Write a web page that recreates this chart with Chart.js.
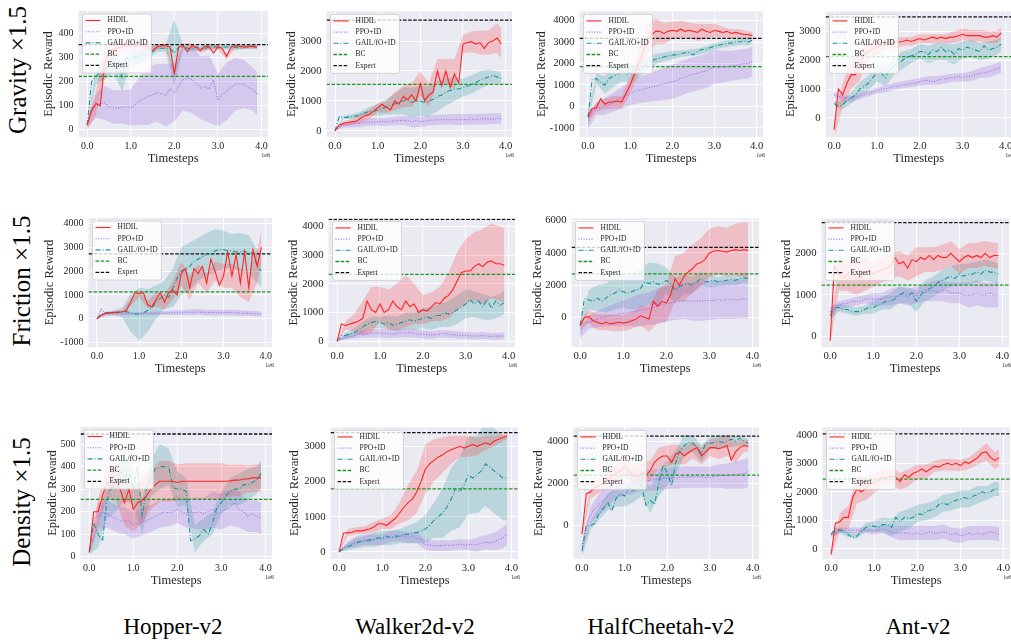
<!DOCTYPE html>
<html>
<head>
<meta charset="utf-8">
<script src="https://cdn.jsdelivr.net/npm/chart.js@4.4.1/dist/chart.umd.min.js"></script>
<style>
html, body { margin: 0; padding: 0; background: #fff; overflow: hidden; }
body { width: 1011px; height: 643px; position: relative; font-family: "Liberation Serif", "DejaVu Serif", serif; color: #000; }
canvas { position: absolute; }
.rowlab { position: absolute; font-size: 25px; white-space: nowrap; transform: translate(-50%, -50%) rotate(-90deg); }
.collab { position: absolute; font-size: 23px; white-space: nowrap; transform: translate(-50%, -50%); }
</style>
</head>
<body>
<script>
// x positions (1e6 timesteps)
const steps = [0.0,0.1,0.2,0.3,0.4,0.5,0.6,0.7,0.8,0.9,1.0,1.1,1.2,1.3,1.4,1.5,1.6,1.7,1.8,1.9,
               2.0,2.1,2.2,2.3,2.4,2.5,2.6,2.7,2.8,2.9,3.0,3.1,3.2,3.3,3.4,3.5,3.6,3.7,3.8,3.9];
const bandSteps = [0.0,0.2,0.4,0.6,0.8,1.0,1.2,1.4,1.6,1.8,2.0,2.2,2.4,2.6,2.8,3.0,3.2,3.4,3.6,3.8,3.9];
const xTicks = [0, 1, 2, 3, 4];

const envs = ['Hopper-v2', 'Walker2d-v2', 'HalfCheetah-v2', 'Ant-v2'];
const shifts = ['Gravity \u00d71.5', 'Friction \u00d71.5', 'Density \u00d71.5'];
const methods = ['HIDIL', 'PPO+ID', 'GAIL/fO+ID', 'BC', 'Expert'];

// y tick labels per panel
const hopperTicks = [0, 100, 200, 300, 400, 500];
const kTicks = [-1000, 0, 1000, 2000, 3000, 4000];
const k2Ticks = [-2000, 0, 2000, 4000, 6000];

// horizontal reference levels, one per env
const grav_bc = [223, 1555, 1858, 2124];
const grav_expert = [355, 3700, 3176, 3503];
const fric_bc = [1130, 2333, 2704, 1235];
const fric_expert = [2720, 4247, 4343, 2740];
const dens_bc = [255, 1790, 2393, 2443];
const dens_expert = [545, 3392, 4243, 4034];

// ---- Gravity x1.5 ----
const grav_hopper_hidil = [20,80,110,100,280,320,335,340,345,350, 350,350,350,348,345,330,345,350,350,345, 235,345,350,325,350,345,330,350,345,320, 345,340,305,345,350,348,345,347,348,345];
const grav_hopper_hidil_sd = [20,50,60,30,20,15,15,15,10,10,10,10,10,10,10,10,10,8,8,8,8];
const grav_hopper_ppo = [20,90,100,110,112,95,95,90,95,95, 93,105,120,130,140,144,155,150,145,170, 157,180,210,214,210,195,175,180,170,208, 125,150,160,176,190,191,190,175,170,150];
const grav_hopper_ppo_sd = [10,50,70,70,70,75,100,120,120,130,120,130,140,130,140,110,120,110,100,90,90];
const grav_hopper_gail = [20,200,220,240,250,260,280,285,220,300, 300,305,300,310,320,325,340,340,340,340, 320,345,345,340,335,345,340,340,345,345, 345,343,345,345,343,340,345,345,345,345];
const grav_hopper_gail_sd = [10,30,40,40,60,30,30,25,15,15,140,10,10,10,10,10,10,10,8,8,8];

const grav_walker_hidil = [0,200,250,280,300,320,420,500,550,650, 770,880,800,700,1000,900,1150,1050,1200,1000, 1580,1000,1200,1300,2000,1500,2000,1450,1900,1600, 2900,2950,2980,2900,2950,2750,2950,3000,3100,2900];
const grav_walker_hidil_sd = [0,80,100,150,150,150,200,300,350,400,400,400,400,400,500,300,350,400,400,500,500];
const grav_walker_ppo = [0,150,180,200,220,250,250,280,300,280, 300,320,300,320,330,350,350,340,300,350, 300,330,350,360,370,380,380,370,380,370, 380,380,390,380,390,400,400,380,420,400];
const grav_walker_ppo_sd = [0,80,100,120,130,130,130,140,150,180,170,170,170,170,180,180,180,180,180,180,180];
const grav_walker_gail = [0,480,450,450,480,500,550,600,650,650, 700,750,800,850,900,950,1000,1050,950,1000, 1000,950,1000,1050,1150,1200,1300,1350,1400,1400, 1450,1500,1550,1600,1700,1750,1800,1850,1800,1750];
const grav_walker_gail_sd = [0,50,80,100,150,200,250,350,450,500,500,500,500,450,400,300,300,300,250,200,200];

const grav_cheetah_hidil = [-500,-100,-50,350,100,200,200,250,200,600, 1000,1500,2000,2500,3100,3300,3500,3500,3400,3500, 3550,3500,3600,3500,3550,3500,3450,3600,3500,3450, 3550,3500,3450,3500,3400,3450,3400,3350,3350,3300];
const grav_cheetah_hidil_sd = [200,200,250,300,300,400,500,700,600,500,400,400,350,400,350,300,250,200,200,150,150];
const grav_cheetah_ppo = [-800,-200,-100,-50,0,50,200,300,400,500, 600,700,750,800,850,900,950,1000,1050,1100, 1150,1200,1300,1350,1450,1500,1550,1600,1650,1750, 1850,1800,1850,1850,1900,1900,1950,2000,2000,2100];
const grav_cheetah_ppo_sd = [300,300,400,450,500,550,600,650,700,750,800,800,800,800,800,800,750,700,700,700,700];
const grav_cheetah_gail = [-500,1250,1300,1100,1000,1300,1400,1500,1600,1500, 1550,1700,1700,1800,2000,2100,2200,2250,2300,2350, 2400,2400,2450,2500,2500,2400,2550,2650,2650,2750, 2800,2850,2900,2950,2950,3000,3000,3050,3000,3100];
const grav_cheetah_gail_sd = [300,250,400,500,450,400,400,300,250,200,200,150,150,150,150,150,150,150,150,150,150];

const grav_ant_hidil = [-400,1000,800,1200,1500,1500,1800,2200,2300,2400, 2450,2500,2550,2600,2600,2630,2650,2700,2650,2700, 2750,2700,2750,2800,2750,2800,2750,2800,2800,2850, 2900,2850,2850,2850,2850,2800,2800,2850,2800,2950];
const grav_ant_hidil_sd = [300,400,500,500,300,250,200,200,150,150,150,150,150,150,200,200,200,200,200,200,200];
const grav_ant_ppo = [800,750,700,700,650,700,750,800,850,900, 950,1000,1000,1050,1100,1100,1150,1150,1200,1200, 1250,1300,1300,1250,1300,1350,1350,1400,1400,1450, 1400,1450,1450,1500,1550,1550,1600,1650,1700,1750];
const grav_ant_ppo_sd = [100,100,100,100,100,100,120,120,120,130,130,150,150,150,150,150,170,170,200,200,200];
const grav_ant_gail = [500,400,450,600,700,800,1000,1100,1200,1400, 1550,1550,1400,1700,1800,1900,2000,2100,2150,2200, 2300,2300,2200,2350,2300,2450,2300,2350,2200,2400, 2350,2450,2400,2350,2300,2500,2350,2400,2450,2550];
const grav_ant_gail_sd = [100,150,200,250,250,300,300,300,300,250,250,300,300,300,350,300,300,300,300,250,250];

// ---- Friction x1.5 ----
const fric_hopper_hidil = [0,150,220,250,270,280,300,350,700,1100, 1050,1100,600,500,800,1100,700,1100,1200,1000, 1900,2100,1300,2100,1900,2200,1500,2500,2000,1400, 1800,2800,1800,2700,1500,2800,1300,2900,2200,3000];
const fric_hopper_hidil_sd = [20,30,50,50,150,150,150,300,300,400,500,500,400,400,400,500,500,600,600,700,700];
const fric_hopper_ppo = [0,400,200,200,200,200,210,200,210,220, 220,230,220,230,240,230,240,250,260,250, 260,280,270,280,290,270,260,270,260,250, 260,270,260,250,240,230,230,220,210,200];
const fric_hopper_ppo_sd = [10,100,60,60,60,70,70,80,80,100,100,120,120,120,120,120,120,120,110,110,110];
const fric_hopper_gail = [0,200,250,250,260,270,280,300,250,200, 200,250,350,450,700,850,1000,900,1300,1700, 2000,2100,2200,2400,2500,2600,2700,2700,2850,2900, 2900,2850,2850,2800,2800,2850,2700,2800,2200,2000];
const fric_hopper_gail_sd = [10,50,100,200,800,1100,900,700,600,800,1000,1000,900,900,900,800,700,800,800,700,700];

const fric_walker_hidil = [0,600,550,600,650,700,800,1400,1100,1000, 1300,1000,1100,1400,1200,1100,1400,1200,1300,1000, 1100,1050,1200,1350,1300,1500,1600,1800,2100,2400, 2450,2450,2600,2700,2600,2750,2800,2700,2700,2650];
const fric_walker_hidil_sd = [0,150,300,600,800,600,700,800,900,700,500,500,600,800,1000,1100,1200,1300,1300,1300,1300];
const fric_walker_ppo = [0,100,150,150,200,250,250,250,280,300, 280,270,260,250,280,300,290,300,280,250, 240,230,220,230,250,280,250,230,220,200, 200,190,180,190,200,180,170,180,180,190];
const fric_walker_ppo_sd = [0,100,100,120,150,150,150,150,150,150,140,130,130,130,120,120,120,120,120,120,120];
const fric_walker_gail = [0,200,200,250,300,400,500,600,650,700, 650,600,650,550,600,650,700,750,700,750, 800,850,800,900,900,1000,950,1000,1100,1200, 1300,1450,1300,1400,1200,1450,1150,1400,1250,1350];
const fric_walker_gail_sd = [0,100,150,200,200,200,250,250,300,300,350,400,400,450,500,500,450,450,400,400,400];

const fric_cheetah_hidil = [-500,0,50,-200,-300,-400,-300,-400,-350,-300, -350,-300,-200,-100,100,0,-100,1000,700,1000, 900,1400,2400,2000,2500,2800,3000,3300,3400,3600, 4000,4100,4150,4100,4050,4150,4200,4150,4200,4150];
const fric_cheetah_hidil_sd = [300,400,500,500,500,500,500,600,800,1000,1200,1400,1500,1500,1500,1500,1500,1500,1600,1700,1700];
const fric_cheetah_ppo = [-1000,-300,-300,-200,-100,0,50,100,150,200, 250,300,350,400,450,500,550,600,700,800, 850,900,950,1000,1000,1050,1000,1050,1000,1050, 1050,1050,1100,1050,1100,1100,1100,1100,1150,1100];
const fric_cheetah_ppo_sd = [300,400,500,600,700,800,900,1000,1000,1100,1100,1100,1100,1200,1200,1200,1200,1200,1200,1200,1200];
const fric_cheetah_gail = [-500,1150,1100,1000,1200,1000,1200,1400,1500,1700, 1600,1500,1600,1700,1800,2200,2100,2200,2050,2100, 2300,2100,1700,1900,2050,2100,2000,2200,2400,2200, 2250,2300,2200,2250,2300,2350,2300,2400,2450,2400];
const fric_cheetah_gail_sd = [300,600,800,900,1000,1000,1100,1200,1300,1300,800,800,600,500,400,400,300,300,300,300,300];

const fric_ant_hidil = [-100,1700,1500,1400,1500,1600,1400,1400,1500,1600, 1500,1550,1600,1650,1700,1900,1750,1800,1650,1850, 1800,1900,1850,1950,1850,1950,1900,1900,2000,1900, 1800,1900,1950,1900,1950,1900,2000,1900,1950,1950];
const fric_ant_hidil_sd = [100,400,400,400,400,300,300,300,300,300,350,300,300,300,300,300,300,300,300,300,300];
const fric_ant_ppo = [600,750,750,800,800,850,850,850,900,900, 900,900,900,950,950,950,1000,1000,950,1050, 1000,1100,1050,1100,1100,1050,1100,1100,1050,1050, 1050,1000,1000,1000,1050,1000,1000,1050,1000,1000];
const fric_ant_ppo_sd = [100,100,100,100,100,150,150,200,200,200,200,200,250,250,250,250,300,300,300,300,300];
const fric_ant_gail = [500,700,700,650,650,600,600,600,650,700, 700,750,800,850,850,900,1000,1050,1000,1050, 850,1000,1100,1150,1200,1300,1350,1400,1450,1400, 1500,1450,1500,1500,1550,1500,1600,1550,1550,1500];
const fric_ant_gail_sd = [100,100,100,100,100,150,150,200,200,200,250,250,250,250,250,250,250,250,250,250,250];

// ---- Density x1.5 ----
const dens_hopper_hidil = [20,200,200,270,330,300,330,300,240,300, 210,240,250,270,300,320,335,335,335,335, 330,335,335,335,335,335,335,335,335,335, 335,335,337,340,340,345,345,350,350,350];
const dens_hopper_hidil_sd = [10,60,70,80,100,100,100,90,90,90,80,80,80,80,80,80,70,70,60,60,60];
const dens_hopper_ppo = [20,170,180,200,190,180,170,160,160,160, 140,150,155,160,170,180,190,200,195,200, 210,200,190,200,195,200,190,200,210,190, 200,210,220,240,210,200,180,190,180,170];
const dens_hopper_ppo_sd = [10,60,60,60,60,60,60,60,60,60,60,60,70,70,80,80,80,80,70,70,70];
const dens_hopper_gail = [20,150,100,70,250,320,300,380,350,380, 310,400,180,300,350,390,400,400,400,307, 300,300,290,71,80,93,121,100,150,220, 240,270,290,300,300,320,320,330,340,370];
const dens_hopper_gail_sd = [10,60,80,100,100,80,80,80,100,80,80,60,60,50,50,50,60,70,70,60,60];

const dens_walker_hidil = [0,530,550,560,600,600,620,650,700,800, 800,750,850,950,1100,1270,1400,1500,1700,2000, 2350,2500,2600,2700,2750,2850,2900,2950,3000,2950, 3000,3050,3000,3050,3100,3050,3150,3200,3250,3300];
const dens_walker_hidil_sd = [0,100,100,100,150,150,200,300,500,600,700,600,500,400,300,300,250,200,150,100,100];
const dens_walker_ppo = [0,150,200,250,300,300,350,300,350,400, 350,400,450,400,450,450,400,450,400,350, 200,200,180,180,180,200,180,200,220,200, 200,220,200,250,280,250,300,350,400,500];
const dens_walker_ppo_sd = [0,100,150,150,150,150,150,150,150,150,150,150,150,150,150,150,200,200,250,300,300];
const dens_walker_gail = [0,100,150,200,250,300,300,350,350,400, 400,450,400,450,450,500,500,550,550,600, 650,750,900,1000,1100,1270,1500,1800,1700,1900, 2180,2100,2200,2300,2500,2400,2300,2200,2100,2090];
const dens_walker_gail_sd = [0,100,150,150,200,200,200,200,250,300,400,500,700,900,1000,1100,1100,1200,1200,1200,1200];

const dens_cheetah_hidil = [-400,1500,1600,1800,1900,2000,2200,2300,2500,2600, 2800,2600,2400,2300,2500,2400,2600,3000,3200,3300, 3300,3000,3400,3500,3300,3480,3600,3700,3300,3500, 3700,3700,3650,3700,3800,3100,3500,3700,3800,3750];
const dens_cheetah_hidil_sd = [200,300,350,400,400,400,450,500,500,500,500,450,400,400,400,400,500,500,500,300,300];
const dens_cheetah_ppo = [-1000,0,500,800,1000,1200,1400,1600,1800,1900, 2000,2000,2050,2100,2150,2100,2150,2200,2200,2250, 2250,2250,2250,2300,2300,2300,2300,2350,2300,2300, 2290,2350,2350,2400,2350,2400,2400,2450,2450,2560];
const dens_cheetah_ppo_sd = [300,400,500,500,500,550,550,500,500,500,500,500,500,500,500,500,550,600,650,700,700];
const dens_cheetah_gail = [-1200,0,0,100,580,800,1115,700,1300,1500, 1400,1800,1600,2000,1900,960,1200,1000,2000,2870, 2500,1900,3000,3600,3800,3940,3900,3700,3400,3900, 3900,3950,4000,3950,4000,4100,4000,4150,4000,3900];
const dens_cheetah_gail_sd = [300,200,300,400,400,500,500,500,600,600,600,600,500,400,400,300,300,300,250,200,200];

const dens_ant_hidil = [-200,900,950,1100,1100,1800,2100,2000,2100,2300, 2300,2400,2500,2500,2550,2500,2360,2600,2500,2650, 2700,2800,2700,2800,2900,2865,2950,3000,2950,3000, 2920,3050,3000,3100,3200,3370,3400,3200,3100,3200];
const dens_ant_hidil_sd = [100,300,400,500,400,350,300,300,300,300,250,250,200,200,200,200,200,250,300,300,300];
const dens_ant_ppo = [500,600,650,650,650,650,650,650,650,650, 600,650,700,650,600,550,550,550,550,500, 550,500,550,600,550,550,600,550,500,550, 450,500,550,500,550,500,550,600,550,500];
const dens_ant_ppo_sd = [100,100,100,100,100,100,150,200,250,250,250,250,250,250,250,250,250,250,250,250,250];
const dens_ant_gail = [500,700,650,600,500,393,450,600,750,800, 786,750,850,850,750,1100,950,1100,1050,1100, 1236,1200,1300,1350,1400,1550,1600,1550,1650,1700, 1750,1800,1750,1850,1900,2000,1950,2000,2100,2100];
const dens_ant_gail_sd = [100,100,100,100,150,200,250,300,350,350,300,300,300,300,300,300,300,300,250,250,250];

// ---------------------------------------------------------------
const SERIF = '"Liberation Serif", "DejaVu Serif", serif';
const INK = '#262626';
const X_MIN = -0.2, X_MAX = 4.15;
const style = {
  'HIDIL':      { line: 'rgb(255,35,35)',   band: 'rgba(255,40,40,0.22)',   dash: [],           width: 1.1 },
  'PPO+ID':     { line: 'rgb(150,115,225)', band: 'rgba(150,110,225,0.26)', dash: [1, 1.6],     width: 1.1 },
  'GAIL/fO+ID': { line: 'rgb(25,150,150)',  band: 'rgba(20,140,140,0.22)',  dash: [5, 2, 1, 2], width: 1.1 },
  'BC':         { line: 'rgb(30,150,30)',   dash: [3.5, 1.6], width: 1.3 },
  'Expert':     { line: '#111',             dash: [3.5, 1.6], width: 1.3 }
};

// plot-area boxes on the page, y limits, y-title gap
const panels = [
  { row: 0, col: 0, l: 78,  t: 0,   r: 267,  b: 137, ymin: -30,   ymax: 495,  yt: hopperTicks, gap: 30, tick: 10,
    s: [grav_hopper_hidil, grav_hopper_hidil_sd, grav_hopper_ppo, grav_hopper_ppo_sd, grav_hopper_gail, grav_hopper_gail_sd], bc: grav_bc[0], ex: grav_expert[0] },
  { row: 0, col: 1, l: 326, t: 0,   r: 511,  b: 137, ymin: -205,  ymax: 3990, yt: kTicks, gap: 35, tick: 10.7,
    s: [grav_walker_hidil, grav_walker_hidil_sd, grav_walker_ppo, grav_walker_ppo_sd, grav_walker_gail, grav_walker_gail_sd], bc: grav_bc[1], ex: grav_expert[1] },
  { row: 0, col: 2, l: 579, t: 0,   r: 762,  b: 137, ymin: -1430, ymax: 4430, yt: kTicks, gap: 38, tick: 10.7,
    s: [grav_cheetah_hidil, grav_cheetah_hidil_sd, grav_cheetah_ppo, grav_cheetah_ppo_sd, grav_cheetah_gail, grav_cheetah_gail_sd], bc: grav_bc[2], ex: grav_expert[2] },
  { row: 0, col: 3, l: 825, t: 0,   r: 1011, b: 137, ymin: -660,  ymax: 3690, yt: kTicks, gap: 35, tick: 10.7,
    s: [grav_ant_hidil, grav_ant_hidil_sd, grav_ant_ppo, grav_ant_ppo_sd, grav_ant_gail, grav_ant_gail_sd], bc: grav_bc[3], ex: grav_expert[3] },

  { row: 1, col: 0, l: 88,  t: 213, r: 271,  b: 347, ymin: -1180, ymax: 4225, yt: kTicks, gap: 39, tick: 10,
    s: [fric_hopper_hidil, fric_hopper_hidil_sd, fric_hopper_ppo, fric_hopper_ppo_sd, fric_hopper_gail, fric_hopper_gail_sd], bc: fric_bc[0], ex: fric_expert[0] },
  { row: 1, col: 1, l: 328, t: 213, r: 514,  b: 347, ymin: -200,  ymax: 4280, yt: kTicks, gap: 35, tick: 10.7,
    s: [fric_walker_hidil, fric_walker_hidil_sd, fric_walker_ppo, fric_walker_ppo_sd, fric_walker_gail, fric_walker_gail_sd], bc: fric_bc[1], ex: fric_expert[1] },
  { row: 1, col: 2, l: 571, t: 213, r: 758,  b: 347, ymin: -1830, ymax: 6135, yt: k2Ticks, gap: 34, tick: 10.7,
    s: [fric_cheetah_hidil, fric_cheetah_hidil_sd, fric_cheetah_ppo, fric_cheetah_ppo_sd, fric_cheetah_gail, fric_cheetah_gail_sd], bc: fric_bc[2], ex: fric_expert[2] },
  { row: 1, col: 3, l: 821, t: 213, r: 1008, b: 347, ymin: -250,  ymax: 2840, yt: kTicks, gap: 35, tick: 10.7,
    s: [fric_ant_hidil, fric_ant_hidil_sd, fric_ant_ppo, fric_ant_ppo_sd, fric_ant_gail, fric_ant_gail_sd], bc: fric_bc[3], ex: fric_expert[3] },

  { row: 2, col: 0, l: 80,  t: 422, r: 271,  b: 559, ymin: -10,   ymax: 576,  yt: hopperTicks, gap: 28, tick: 10,
    s: [dens_hopper_hidil, dens_hopper_hidil_sd, dens_hopper_ppo, dens_hopper_ppo_sd, dens_hopper_gail, dens_hopper_gail_sd], bc: dens_bc[0], ex: dens_expert[0] },
  { row: 2, col: 1, l: 330, t: 422, r: 517,  b: 559, ymin: -200,  ymax: 3537, yt: kTicks, gap: 36, tick: 10.7,
    s: [dens_walker_hidil, dens_walker_hidil_sd, dens_walker_ppo, dens_walker_ppo_sd, dens_walker_gail, dens_walker_gail_sd], bc: dens_bc[1], ex: dens_expert[1] },
  { row: 2, col: 2, l: 573, t: 422, r: 758,  b: 559, ymin: -1585, ymax: 4657, yt: k2Ticks, gap: 35, tick: 10.7,
    s: [dens_cheetah_hidil, dens_cheetah_hidil_sd, dens_cheetah_ppo, dens_cheetah_ppo_sd, dens_cheetah_gail, dens_cheetah_gail_sd], bc: dens_bc[2], ex: dens_expert[2] },
  { row: 2, col: 3, l: 822, t: 422, r: 1009, b: 559, ymin: -360,  ymax: 4260, yt: kTicks, gap: 34, tick: 10.7,
    s: [dens_ant_hidil, dens_ant_hidil_sd, dens_ant_ppo, dens_ant_ppo_sd, dens_ant_gail, dens_ant_gail_sd], bc: dens_bc[3], ex: dens_expert[3] }
];

const rowLabelPos = [[18, 70], [22, 281], [22, 502]];
const colLabelPos = [173, 415, 661, 918];

function meanPts(arr) { return steps.map((x, i) => ({ x: x, y: arr[i] })); }
function bandPts(mean, sd, sign) {
  return bandSteps.map((x, i) => ({ x: x, y: mean[Math.round(x * 10)] + sign * sd[i] }));
}

// seaborn-like backdrop
const backdrop = {
  id: 'backdrop',
  beforeDraw(chart) {
    const a = chart.chartArea, ctx = chart.ctx;
    ctx.save();
    ctx.fillStyle = '#eaeaf2';
    ctx.fillRect(a.left, a.top, a.right - a.left, a.bottom - a.top);
    ctx.restore();
  }
};

// boxed legend in the upper-left corner, plus the 1e6 offset text
const boxLegend = {
  id: 'boxLegend',
  afterDraw(chart) {
    const a = chart.chartArea, ctx = chart.ctx;
    const x = a.left + 4, y = a.top + 3, w = 69, h = 59;
    ctx.save();
    ctx.beginPath();
    ctx.roundRect(x, y, w, h, 2);
    ctx.fillStyle = 'rgba(255,255,255,0.8)';
    ctx.fill();
    ctx.strokeStyle = '#cccccc';
    ctx.lineWidth = 0.8;
    ctx.stroke();
    methods.forEach((m, i) => {
      const ds = chart.data.datasets.find(d => d.label === m);
      const cy = y + 6.5 + i * 11.2;
      ctx.beginPath();
      ctx.setLineDash(ds.borderDash || []);
      ctx.strokeStyle = ds.borderColor;
      ctx.lineWidth = ds.borderWidth;
      ctx.moveTo(x + 3, cy);
      ctx.lineTo(x + 18, cy);
      ctx.stroke();
      ctx.setLineDash([]);
      ctx.fillStyle = INK;
      ctx.font = '7.5px ' + SERIF;
      ctx.textBaseline = 'middle';
      ctx.textAlign = 'left';
      ctx.fillText(m, x + 25, cy);
    });
    ctx.font = '6px ' + SERIF;
    ctx.textAlign = 'right';
    ctx.fillStyle = INK;
    ctx.fillText('1e6', a.right + 2, a.bottom + 18);
    ctx.restore();
  }
};

function lineSet(label, data, order) {
  const st = style[label];
  return { label, data, borderColor: st.line, borderWidth: st.width, borderDash: st.dash,
           pointRadius: 0, fill: false, order };
}

function bandSets(label, mean, sd) {
  const st = style[label];
  return [
    { label: '', data: bandPts(mean, sd, -1), borderWidth: 0, pointRadius: 0, fill: false, order: 20 },
    { label: '', data: bandPts(mean, sd, 1), borderWidth: 0, pointRadius: 0, backgroundColor: st.band, fill: '-1', order: 20 }
  ];
}

panels.forEach(p => {
  const padTop = p.t === 0 ? 0 : 6, padRight = 6, xH = 29;
  const yW = p.gap + 7.5;
  const cw = Math.round(yW + (p.r - p.l) + padRight);
  const ch = Math.round(padTop + (p.b - p.t) + xH);
  const cv = document.createElement('canvas');
  cv.width = cw; cv.height = ch;
  cv.style.left = (p.l - yW) + 'px';
  cv.style.top = (p.t - padTop) + 'px';
  document.body.appendChild(cv);

  const [h, hsd, pp, psd, g, gsd] = p.s;
  const datasets = [
    ...bandSets('HIDIL', h, hsd),
    ...bandSets('PPO+ID', pp, psd),
    ...bandSets('GAIL/fO+ID', g, gsd),
    lineSet('HIDIL', meanPts(h), 0),
    lineSet('GAIL/fO+ID', meanPts(g), 1),
    lineSet('PPO+ID', meanPts(pp), 2),
    lineSet('BC', [{ x: X_MIN, y: p.bc }, { x: X_MAX, y: p.bc }], 3),
    lineSet('Expert', [{ x: X_MIN, y: p.ex }, { x: X_MAX, y: p.ex }], 4)
  ];
  const yTickVals = p.yt.filter(v => v >= p.ymin && v <= p.ymax);

  new Chart(cv, {
    type: 'line',
    data: { datasets },
    options: {
      responsive: false,
      animation: false,
      devicePixelRatio: 1,
      layout: { padding: { top: padTop, right: padRight, left: 0, bottom: 0 } },
      elements: { line: { tension: 0 }, point: { radius: 0 } },
      plugins: {
        legend: { display: false },
        tooltip: { enabled: false },
        filler: { drawTime: 'beforeDatasetsDraw', propagate: false }
      },
      scales: {
        x: {
          type: 'linear', min: X_MIN, max: X_MAX,
          border: { display: false },
          grid: { color: '#ffffff', lineWidth: 1, drawTicks: false },
          ticks: { padding: 3, maxRotation: 0, autoSkip: false, color: INK,
                   font: { family: SERIF, size: p.tick }, callback: v => v.toFixed(1) },
          afterBuildTicks: s => { s.ticks = xTicks.map(v => ({ value: v })); },
          title: { display: true, text: 'Timesteps', color: INK, padding: 0, font: { family: SERIF, size: 12.5 } },
          afterFit: s => { s.height = xH; }
        },
        y: {
          min: p.ymin, max: p.ymax,
          border: { display: false },
          grid: { color: '#ffffff', lineWidth: 1, drawTicks: false },
          ticks: { padding: 5, autoSkip: false, color: INK,
                   font: { family: SERIF, size: p.tick }, callback: v => String(v) },
          afterBuildTicks: s => { s.ticks = yTickVals.map(v => ({ value: v })); },
          title: { display: true, text: 'Episodic Reward', color: INK, padding: 0, font: { family: SERIF, size: 12.5 } },
          afterFit: s => { s.width = yW; }
        }
      }
    },
    plugins: [backdrop, boxLegend]
  });
});

shifts.forEach((txt, i) => {
  const d = document.createElement('div');
  d.className = 'rowlab';
  d.textContent = txt;
  d.style.left = rowLabelPos[i][0] + 'px';
  d.style.top = rowLabelPos[i][1] + 'px';
  document.body.appendChild(d);
});
envs.forEach((txt, i) => {
  const d = document.createElement('div');
  d.className = 'collab';
  d.textContent = txt;
  d.style.left = colLabelPos[i] + 'px';
  d.style.top = '627px';
  document.body.appendChild(d);
});
</script>
</body>
</html>
